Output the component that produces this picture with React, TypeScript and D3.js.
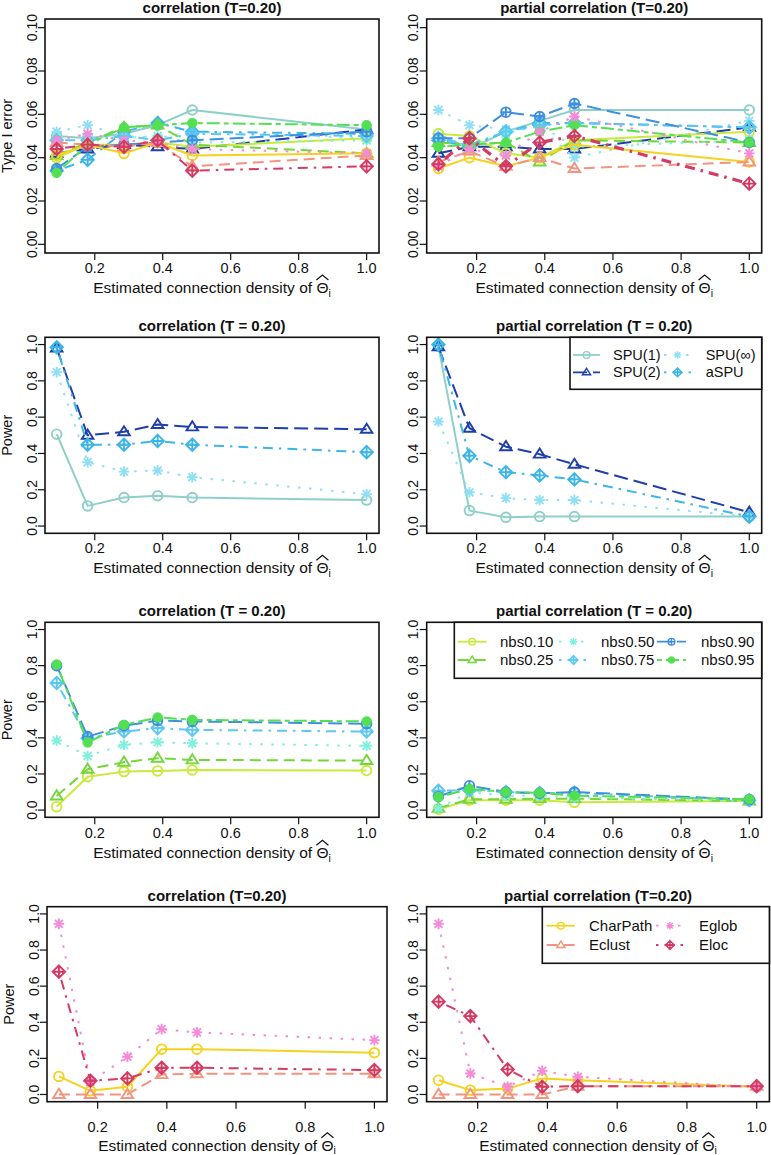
import React, { useEffect, useRef } from 'react';
import * as d3 from 'd3';

// ---------------- DATA ----------------
const density = [0.088, 0.179, 0.286, 0.385, 0.487, 1.0];
const xTicks = [0.2, 0.4, 0.6, 0.8, 1.0];
const yTicksErr = [0, 0.02, 0.04, 0.06, 0.08, 0.1];
const yTicksPow = [0, 0.2, 0.4, 0.6, 0.8, 1.0];

const spuNames = ['SPU(1)', 'SPU(2)', 'SPU(∞)', 'aSPU'];
const nbsNames = ['nbs0.10', 'nbs0.25', 'nbs0.50', 'nbs0.75', 'nbs0.90', 'nbs0.95'];
const graphNames = ['CharPath', 'Eclust', 'Eglob', 'Eloc'];
const allNames = [...spuNames, ...nbsNames, ...graphNames];

// Type I error, correlation (rows follow allNames)
const typeIErrCorr = [
  [0.050, 0.049, 0.051, 0.055, 0.062, 0.053],
  [0.042, 0.044, 0.046, 0.045, 0.044, 0.053],
  [0.052, 0.055, 0.050, 0.049, 0.052, 0.049],
  [0.034, 0.039, 0.052, 0.056, 0.052, 0.051],
  [0.040, 0.046, 0.046, 0.047, 0.045, 0.049],
  [0.041, 0.047, 0.054, 0.055, 0.046, 0.042],
  [0.049, 0.050, 0.049, 0.050, 0.047, 0.048],
  [0.048, 0.048, 0.050, 0.048, 0.051, 0.050],
  [0.035, 0.045, 0.046, 0.047, 0.048, 0.052],
  [0.033, 0.046, 0.054, 0.055, 0.056, 0.055],
  [0.041, 0.046, 0.042, 0.047, 0.041, 0.042],
  [0.047, 0.046, 0.045, 0.047, 0.036, 0.041],
  [0.048, 0.051, 0.048, 0.047, 0.044, 0.042],
  [0.044, 0.046, 0.045, 0.048, 0.034, 0.036],
];

// Type I error, partial correlation
const typeIErrPcorr = [
  [0.051, 0.044, 0.052, 0.057, 0.062, 0.062],
  [0.042, 0.045, 0.045, 0.044, 0.044, 0.054],
  [0.062, 0.055, 0.053, 0.054, 0.040, 0.057],
  [0.048, 0.045, 0.052, 0.056, 0.056, 0.054],
  [0.051, 0.050, 0.042, 0.040, 0.048, 0.052],
  [0.047, 0.046, 0.047, 0.038, 0.048, 0.047],
  [0.049, 0.045, 0.051, 0.055, 0.045, 0.048],
  [0.049, 0.046, 0.052, 0.055, 0.056, 0.054],
  [0.049, 0.049, 0.061, 0.059, 0.065, 0.047],
  [0.045, 0.046, 0.047, 0.052, 0.055, 0.047],
  [0.035, 0.040, 0.036, 0.040, 0.046, 0.038],
  [0.038, 0.043, 0.036, 0.040, 0.035, 0.038],
  [0.036, 0.044, 0.041, 0.052, 0.059, 0.042],
  [0.037, 0.049, 0.036, 0.047, 0.050, 0.028],
];

// Power, SPU tests
const powerSpuCorr = [
  [0.506, 0.111, 0.157, 0.167, 0.157, 0.143],
  [0.980, 0.500, 0.519, 0.559, 0.546, 0.533],
  [0.848, 0.352, 0.300, 0.306, 0.269, 0.176],
  [0.985, 0.448, 0.448, 0.469, 0.448, 0.407],
];
const powerSpuPcorr = [
  [0.990, 0.085, 0.048, 0.052, 0.052, 0.052],
  [0.987, 0.539, 0.437, 0.396, 0.340, 0.076],
  [0.576, 0.186, 0.154, 0.143, 0.143, 0.052],
  [1.000, 0.387, 0.297, 0.279, 0.257, 0.052],
];

// Power, NBS tests
const powerNbsCorr = [
  [0.019, 0.185, 0.213, 0.217, 0.222, 0.219],
  [0.078, 0.226, 0.265, 0.287, 0.278, 0.274],
  [0.385, 0.300, 0.361, 0.376, 0.370, 0.356],
  [0.704, 0.398, 0.435, 0.454, 0.444, 0.435],
  [0.800, 0.407, 0.467, 0.496, 0.491, 0.478],
  [0.806, 0.374, 0.472, 0.513, 0.500, 0.491],
];
const powerNbsPcorr = [
  [0.005, 0.055, 0.055, 0.055, 0.043, 0.050],
  [0.010, 0.060, 0.060, 0.063, 0.063, 0.050],
  [0.010, 0.100, 0.080, 0.080, 0.070, 0.050],
  [0.107, 0.110, 0.100, 0.095, 0.095, 0.055],
  [0.075, 0.135, 0.100, 0.093, 0.100, 0.058],
  [0.073, 0.117, 0.100, 0.095, 0.080, 0.060],
];

// Power, graph metrics
const powerGraphCorr = [
  [0.100, 0.020, 0.043, 0.251, 0.251, 0.231],
  [0.000, 0.000, 0.000, 0.110, 0.115, 0.115],
  [0.945, 0.070, 0.209, 0.362, 0.344, 0.301],
  [0.680, 0.076, 0.089, 0.148, 0.148, 0.135],
];
const powerGraphPcorr = [
  [0.079, 0.024, 0.033, 0.089, 0.079, 0.043],
  [0.000, 0.000, 0.000, 0.000, 0.045, 0.045],
  [0.945, 0.116, 0.043, 0.131, 0.098, 0.040],
  [0.514, 0.434, 0.139, 0.043, 0.046, 0.046],
];

// ---------------- STYLES ----------------
const DASH: Record<string, string | null> = {
  solid: null,
  dashed: '11 6',
  dotted: '2.5 8.5',
  dotdash: '2.5 6 10 6',
  longdash: '14 6',
  twodash: '5 4 13 4',
};
type Style = { color: string; lty: string; pch: number };
const STYLES: Record<string, Style> = {
  'SPU(1)': { color: '#8ed0c9', lty: 'solid', pch: 1 },
  'SPU(2)': { color: '#1f3fa8', lty: 'longdash', pch: 2 },
  'SPU(∞)': { color: '#8fdff5', lty: 'dotted', pch: 8 },
  aSPU: { color: '#3db5e6', lty: 'dotdash', pch: 9 },
  'nbs0.10': { color: '#c8ea3a', lty: 'solid', pch: 1 },
  'nbs0.25': { color: '#74d63a', lty: 'dashed', pch: 2 },
  'nbs0.50': { color: '#7ef0dc', lty: 'dotted', pch: 8 },
  'nbs0.75': { color: '#5cc8f2', lty: 'dotdash', pch: 9 },
  'nbs0.90': { color: '#3f8fe0', lty: 'longdash', pch: 10 },
  'nbs0.95': { color: '#52e052', lty: 'twodash', pch: 16 },
  CharPath: { color: '#f5d21e', lty: 'solid', pch: 1 },
  Eclust: { color: '#f29480', lty: 'dashed', pch: 2 },
  Eglob: { color: '#f48ad8', lty: 'dotted', pch: 8 },
  Eloc: { color: '#d43a64', lty: 'dotdash', pch: 9 },
};

const FONT = '"Liberation Sans", Arial, Helvetica, sans-serif';

type LegendSpec = {
  left: number;
  bottom: number;
  cols: { seg: [number, number]; text: number }[];
  rows: number[];
  font: number;
};
type PanelSpec = {
  l: number; r: number; t: number; b: number;
  title: string;
  kind: 'err' | 'pow';
  names: string[];
  data: number[][];
  ylabel?: string;
  legend?: LegendSpec;
  tickOff: number;
  labOff: number;
  lwd?: Record<string, number>;
};

const panels: PanelSpec[] = [
  { l: 45, r: 379, t: 19, b: 253, title: 'correlation (T=0.20)', kind: 'err', names: allNames, data: typeIErrCorr, ylabel: 'Type I error', tickOff: 15, labOff: 35 },
  { l: 426.7, r: 761.7, t: 19, b: 253, title: 'partial correlation (T=0.20)', kind: 'err', names: allNames, data: typeIErrPcorr, tickOff: 15, labOff: 35, lwd: { Eloc: 3.2 } },
  { l: 45, r: 379, t: 337.3, b: 533.3, title: 'correlation (T = 0.20)', kind: 'pow', names: spuNames, data: powerSpuCorr, ylabel: 'Power', tickOff: 15, labOff: 35 },
  {
    l: 426.7, r: 761.7, t: 337.3, b: 533.3, title: 'partial correlation (T = 0.20)', kind: 'pow', names: spuNames, data: powerSpuPcorr, tickOff: 15, labOff: 35,
    legend: { left: 570, bottom: 389.3, cols: [{ seg: [573, 600], text: 613 }, { seg: [664, 691], text: 705.7 }], rows: [355, 372.3], font: 14.5 },
  },
  { l: 45, r: 379, t: 622.3, b: 817.3, title: 'correlation (T = 0.20)', kind: 'pow', names: nbsNames, data: powerNbsCorr, ylabel: 'Power', tickOff: 16, labOff: 36 },
  {
    l: 426.7, r: 761.7, t: 622.3, b: 817.3, title: 'partial correlation (T = 0.20)', kind: 'pow', names: nbsNames, data: powerNbsPcorr, tickOff: 16, labOff: 36,
    legend: { left: 454.3, bottom: 678.3, cols: [{ seg: [457.7, 486.7], text: 500 }, { seg: [559, 588], text: 601 }, { seg: [657, 686], text: 701 }], rows: [641.7, 660], font: 15 },
  },
  { l: 47, r: 387, t: 906.7, b: 1101.7, title: 'correlation (T=0.20)', kind: 'pow', names: graphNames, data: powerGraphCorr, ylabel: 'Power', tickOff: 25, labOff: 44 },
  {
    l: 426.6, r: 769.4, t: 906.7, b: 1101.7, title: 'partial correlation (T=0.20)', kind: 'pow', names: graphNames, data: powerGraphPcorr, tickOff: 25, labOff: 44,
    legend: { left: 542.3, bottom: 963.3, cols: [{ seg: [546.7, 575], text: 589 }, { seg: [656, 684], text: 699 }], rows: [925.7, 945], font: 15 },
  },
];

// ---------------- DRAWING HELPERS ----------------
function drawSymbol(g: any, pch: number, cx: number, cy: number, color: string, s = 1) {
  const r = 4.8 * s;
  const sw = 1.9 * Math.max(s, 0.75);
  const gg = g.append('g').attr('stroke', color).attr('stroke-width', sw).attr('fill', 'none');
  if (pch === 1) {
    gg.append('circle').attr('cx', cx).attr('cy', cy).attr('r', r);
  } else if (pch === 2) {
    const h = r * 1.9;
    const w = r * 1.15;
    gg.append('path').attr('d', `M${cx},${cy - h * 0.62}L${cx - w * 1.05},${cy + h * 0.38}L${cx + w * 1.05},${cy + h * 0.38}Z`);
  } else if (pch === 8) {
    const a = r * 1.1;
    const d = a * 0.75;
    gg.append('path').attr('d', `M${cx - a},${cy}H${cx + a}M${cx},${cy - a}V${cy + a}M${cx - d},${cy - d}L${cx + d},${cy + d}M${cx - d},${cy + d}L${cx + d},${cy - d}`);
  } else if (pch === 9) {
    const a = r * 1.3;
    gg.append('path').attr('d', `M${cx},${cy - a}L${cx + a},${cy}L${cx},${cy + a}L${cx - a},${cy}ZM${cx - a},${cy}H${cx + a}M${cx},${cy - a}V${cy + a}`);
  } else if (pch === 10) {
    gg.append('circle').attr('cx', cx).attr('cy', cy).attr('r', r);
    gg.append('path').attr('d', `M${cx - r},${cy}H${cx + r}M${cx},${cy - r}V${cy + r}`);
  } else if (pch === 16) {
    gg.append('circle').attr('cx', cx).attr('cy', cy).attr('r', r).attr('fill', color).attr('stroke-width', 0.8);
  }
}

function drawXLabel(svg: any, cx: number, y: number) {
  const t = svg.append('text')
    .attr('x', cx).attr('y', y)
    .attr('text-anchor', 'middle')
    .attr('font-family', FONT).attr('font-size', 15.5).attr('fill', '#111');
  const prefix = 'Estimated connection density of ';
  t.append('tspan').text(prefix);
  t.append('tspan').text('Θ');
  t.append('tspan').attr('font-size', 10.5).attr('dy', 3.5).text('i');
  try {
    const node = t.node() as SVGTextElement;
    const ext = node.getExtentOfChar(prefix.length);
    const x0 = ext.x;
    const x1 = ext.x + ext.width;
    const top = y - 13;
    svg.append('path')
      .attr('d', `M${x0},${top}L${(x0 + x1) / 2},${top - 5}L${x1},${top}`)
      .attr('fill', 'none').attr('stroke', '#111').attr('stroke-width', 1.2);
  } catch (e) {
    /* ignore */
  }
}

function drawPanel(svg: any, p: PanelSpec) {
  const x = d3.scaleLinear().domain([0.0536, 1.0364]).range([p.l, p.r]);
  const y = p.kind === 'err'
    ? d3.scaleLinear().domain([-0.004, 0.104]).range([p.b, p.t])
    : d3.scaleLinear().domain([-0.04, 1.04]).range([p.b, p.t]);
  const yTicks = p.kind === 'err' ? yTicksErr : yTicksPow;
  const yFmt = p.kind === 'err' ? d3.format('.2f') : d3.format('.1f');
  const g = svg.append('g');

  // title
  g.append('text')
    .attr('x', (p.l + p.r) / 2).attr('y', p.t - 12 + 6)
    .attr('text-anchor', 'middle').attr('font-family', FONT)
    .attr('font-weight', 'bold').attr('font-size', 15).attr('fill', '#111')
    .text(p.title);

  // series
  const line = d3.line<number>().x((_, i) => x(density[i])).y((v) => y(v));
  p.names.forEach((name, si) => {
    const st = STYLES[name];
    const vals = p.data[si];
    const lw = (p.lwd && p.lwd[name]) || 2;
    const path = g.append('path')
      .attr('d', line(vals))
      .attr('fill', 'none').attr('stroke', st.color).attr('stroke-width', lw)
      .attr('stroke-linejoin', 'round');
    const dash = DASH[st.lty];
    if (dash) path.attr('stroke-dasharray', dash);
    vals.forEach((v, i) => drawSymbol(g, st.pch, x(density[i]), y(v), st.color, 1));
  });

  // box
  g.append('rect').attr('x', p.l).attr('y', p.t).attr('width', p.r - p.l).attr('height', p.b - p.t)
    .attr('fill', 'none').attr('stroke', '#111').attr('stroke-width', 1.6);

  // x ticks
  xTicks.forEach((v) => {
    g.append('line').attr('x1', x(v)).attr('x2', x(v)).attr('y1', p.b).attr('y2', p.b + 7)
      .attr('stroke', '#111').attr('stroke-width', 1.2);
    g.append('text').attr('x', x(v)).attr('y', p.b + p.tickOff + 5)
      .attr('text-anchor', 'middle').attr('font-family', FONT).attr('font-size', 14.5).attr('fill', '#111')
      .text(d3.format('.1f')(v));
  });
  // y ticks
  yTicks.forEach((v) => {
    g.append('line').attr('x1', p.l - 7).attr('x2', p.l).attr('y1', y(v)).attr('y2', y(v))
      .attr('stroke', '#111').attr('stroke-width', 1.2);
    const cx = p.l - 13.4 + 5;
    g.append('text').attr('transform', `translate(${cx},${y(v)}) rotate(-90)`)
      .attr('text-anchor', 'middle').attr('font-family', FONT).attr('font-size', 14).attr('fill', '#111')
      .text(yFmt(v));
  });
  // y label
  if (p.ylabel) {
    g.append('text').attr('transform', `translate(${p.l - 38 + 5},${(p.t + p.b) / 2}) rotate(-90)`)
      .attr('text-anchor', 'middle').attr('font-family', FONT).attr('font-size', 14.5).attr('fill', '#111')
      .text(p.ylabel);
  }
  // x label
  drawXLabel(g, (p.l + p.r) / 2, p.b + p.labOff + 5);

  // legend
  if (p.legend) {
    const L = p.legend;
    g.append('rect').attr('x', L.left).attr('y', p.t).attr('width', p.r - L.left).attr('height', L.bottom - p.t)
      .attr('fill', '#fff').attr('stroke', '#111').attr('stroke-width', 1.6);
    p.names.forEach((name, i) => {
      const col = L.cols[Math.floor(i / 2)];
      const ry = L.rows[i % 2];
      const st = STYLES[name];
      const seg = g.append('line').attr('x1', col.seg[0]).attr('x2', col.seg[1]).attr('y1', ry).attr('y2', ry)
        .attr('stroke', st.color).attr('stroke-width', 1.8);
      const dash = DASH[st.lty];
      if (dash) seg.attr('stroke-dasharray', dash);
      drawSymbol(g, st.pch, (col.seg[0] + col.seg[1]) / 2, ry, st.color, 0.7);
      g.append('text').attr('x', col.text).attr('y', ry + 5)
        .attr('font-family', FONT).attr('font-size', L.font).attr('fill', '#111')
        .text(name);
    });
  }
}

export default function App() {
  const ref = useRef<SVGSVGElement | null>(null);
  useEffect(() => {
    const svg = d3.select(ref.current);
    svg.selectAll('*').remove();
    svg.append('rect').attr('width', 771).attr('height', 1155).attr('fill', '#fff');
    panels.forEach((p) => drawPanel(svg, p));
  }, []);
  return (
    <svg
      ref={ref}
      width={771}
      height={1155}
      viewBox="0 0 771 1155"
      style={{ position: 'absolute', left: 0, top: 0, display: 'block', background: '#fff' }}
    />
  );
}
